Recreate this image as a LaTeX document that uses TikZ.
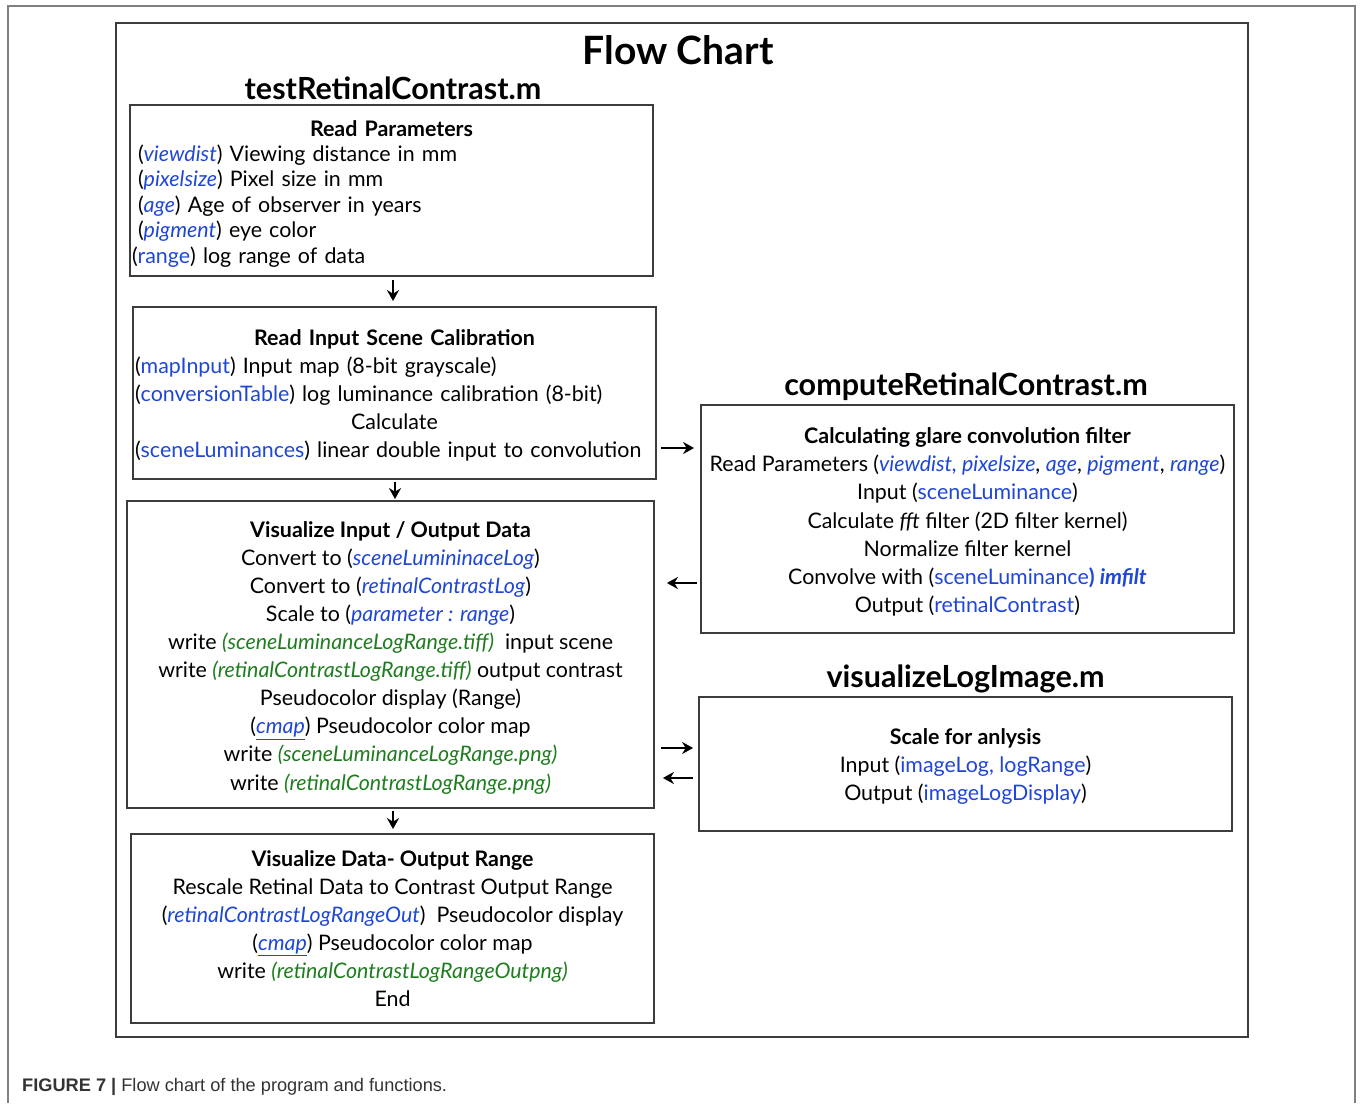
\documentclass[tikz,border=0pt]{standalone}
\usepackage{fontspec}
\setmainfont{Lato}
\newfontfamily\capfont{Liberation Sans}
\usetikzlibrary{arrows.meta,calc}
\definecolor{kblue}{RGB}{30,70,215}
\definecolor{kgreen}{RGB}{30,125,30}
\definecolor{kframe}{RGB}{60,60,60}
\newcommand{\bl}[1]{\textcolor{kblue}{#1}}
\newcommand{\bi}[1]{\textcolor{kblue}{\textit{#1}}}
\newcommand{\gi}[1]{\textcolor{kgreen}{\textit{#1}}}
\newcommand{\ub}[1]{\textcolor{kblue}{\underline{\textit{#1}}}}
\newcommand{\topsp}[1]{\rule{0pt}{#1}}
\begin{document}
\begin{tikzpicture}[x=1pt,y=-1pt,
  box/.style={draw=kframe,line width=1.8pt,inner sep=0pt,align=center,font=\fontsize{21.4}{28}\selectfont},
  head/.style={font=\bfseries\fontsize{30.5}{34}\selectfont,inner sep=0pt},
  arr/.style={line width=2.8pt,-{Stealth[length=11pt,width=12pt]}}]
\useasboundingbox (0,0) rectangle (1360,1103);
\draw[gray,line width=1.5pt] (8,1103) -- (8,6) -- (1355,6) -- (1355,1103);
\draw[kframe,line width=2pt] (116,23) rectangle (1248,1037);

\node[font=\bfseries\fontsize{39}{44}\selectfont,inner sep=0pt] (title) at (678,50) {Flow Chart};
\node[head] (h1) at (393,88) {testRetinalContrast.m};
\node[head] (h2) at (966,387) {computeRetinalContrast.m};
\node[head] (h3) at (965.5,679) {visualizeLogImage.m};

\node[box,text width=507pt,align=left,font=\fontsize{21.4}{25.4}\selectfont,minimum width=523pt,minimum height=171pt] (b1) at (391.5,190.5)
{\makebox[507pt]{\topsp{22pt}\bfseries Read Parameters}\\
(\bi{viewdist}) Viewing distance in mm\\
(\bi{pixelsize}) Pixel size in mm\\
(\bi{age}) Age of observer in years\\
(\bi{pigment}) eye color\\
\hspace*{-6pt}(\bl{range}) log range of data};

\node[box,text width=519pt,align=left,minimum width=523pt,minimum height=172pt] (b2) at (394.5,393)
{\makebox[519pt]{\topsp{21pt}\bfseries Read Input Scene Calibration}\\
(\bl{mapInput}) Input map (8-bit grayscale)\\
(\bl{conversionTable}) log luminance calibration (8-bit)\\
\makebox[519pt]{Calculate}\\
(\bl{sceneLuminances}) linear double input to convolution};

\node[box,font=\fontsize{21.4}{28.2}\selectfont,minimum width=533pt,minimum height=228pt] (b3) at (967.5,519)
{\topsp{22pt}\textbf{Calculating glare convolution filter}\\
Read Parameters (\bi{viewdist, pixelsize}, \bi{age}, \bi{pigment}, \bi{range})\\
Input (\bl{sceneLuminance})\\
Calculate \textit{fft} filter (2D filter kernel)\\
Normalize filter kernel\\
Convolve with (\bl{sceneLuminance}\textcolor{kblue}{\textbf{) \textit{imfilt}}}\\
Output (\bl{retinalContrast})};

\node[box,font=\fontsize{21.4}{28.1}\selectfont,minimum width=527pt,minimum height=307pt] (b4) at (390.5,654.5)
{\topsp{22pt}\textbf{Visualize Input / Output Data}\\
Convert to (\bi{sceneLumininaceLog})\\
Convert to (\bi{retinalContrastLog})\\
Scale to (\bi{parameter : range})\\
write \gi{(sceneLuminanceLogRange.tiff)}\ \ input scene\\
write \gi{(retinalContrastLogRange.tiff)} output contrast\\
Pseudocolor display (Range)\\
(\ub{cmap}) Pseudocolor color map\\
write \gi{(sceneLuminanceLogRange.png)}\\
write \gi{(retinalContrastLogRange.png)}};

\node[box,minimum width=533pt,minimum height=134pt] (b5) at (965.5,764)
{\topsp{21pt}\textbf{Scale for anlysis}\\
Input (\bl{imageLog, logRange})\\
Output (\bl{imageLogDisplay})};

\node[box,minimum width=523pt,minimum height=189pt] (b6) at (392.5,928.5)
{\textbf{Visualize Data- Output Range}\\
Rescale Retinal Data to Contrast Output Range\\
(\bi{retinalContrastLogRangeOut})\ \ Pseudocolor display\\
(\ub{cmap}) Pseudocolor color map\\
write \gi{(retinalContrastLogRangeOutpng)}\\
End};

\coordinate (xa) at (393,0);
\coordinate (xb) at (395,0);
\coordinate (ya) at (0,448);
\coordinate (yb) at (0,583);
\coordinate (yc) at (0,748);
\coordinate (yd) at (0,778);
\draw[arr,shorten <=3pt,shorten >=5pt] (b1.south -| xa) -- (b2.north -| xa);
\draw[arr,shorten <=4pt,shorten >=6pt] (b2.east |- ya) -- (b3.west |- ya);
\draw[arr,shorten <=2pt,shorten >=1pt] (b2.south -| xb) -- (b4.north -| xb);
\draw[arr,shorten <=3pt,shorten >=12pt] (b3.west |- yb) -- (b4.east |- yb);
\draw[arr,shorten <=6pt,shorten >=5pt] (b4.east |- yc) -- (b5.west |- yc);
\draw[arr,shorten <=5pt,shorten >=8pt] (b5.west |- yd) -- (b4.east |- yd);
\draw[arr,shorten <=2pt,shorten >=4pt] (b4.south -| xa) -- (b6.north -| xa);

\node[anchor=base west,inner sep=0pt,font=\capfont\fontsize{18.2}{20}\selectfont,text=black!80] (cap) at (22,1091)
{\textbf{FIGURE 7 |} Flow chart of the program and functions.};
\end{tikzpicture}
\end{document}
